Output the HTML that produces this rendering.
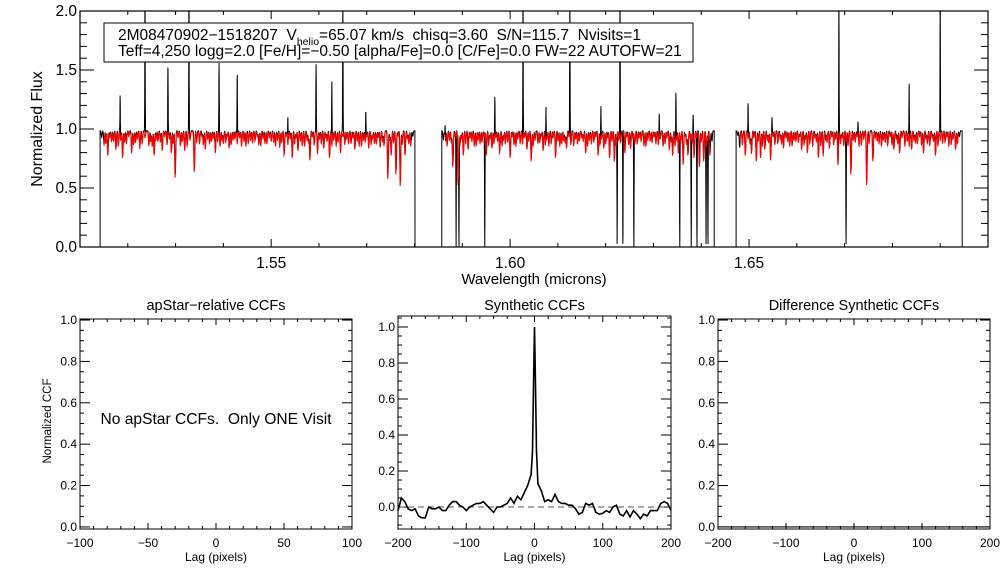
<!DOCTYPE html>
<html><head><meta charset="utf-8"><style>
html,body{margin:0;padding:0;background:#fff}
svg{display:block;font-family:"Liberation Sans",Arial,sans-serif}
text{white-space:pre}
</style></head><body>
<svg id="root" width="1008" height="576" viewBox="0 0 1008 576" xmlns="http://www.w3.org/2000/svg">
<rect width="1008" height="576" fill="#fff"/>
<g id="topPanel"></g>
<g id="p1"></g>
<g id="p2"></g>
<g id="p3"></g>
</svg>
<script>
// ---- spectrum data ----
const chipRanges = [[1.5142,1.5801],[1.5857,1.6427],[1.6473,1.6946]];
const absLines = [
 [[1.5150,.12],[1.5158,.20],[1.5166,.08],[1.5175,.15],[1.5189,.22],[1.5197,.10],[1.5208,.18],[1.5216,.09],[1.5225,.14],[1.5244,.12],[1.5255,.20],[1.5263,.08],[1.5272,.16],[1.5291,.18],[1.5299,.39],[1.5310,.12],[1.5319,.16],[1.5339,.34],[1.5350,.10],[1.5362,.15],[1.5375,.08],[1.5383,.18],[1.5400,.10],[1.5412,.14],[1.5420,.07],[1.5438,.12],[1.5452,.10],[1.5466,.08],[1.5478,.12],[1.5491,.10],[1.5505,.09],[1.5518,.13],[1.5527,.20],[1.5544,.22],[1.5556,.16],[1.5570,.12],[1.5581,.24],[1.5597,.18],[1.5610,.14],[1.5622,.22],[1.5636,.12],[1.5645,.18],[1.5662,.10],[1.5675,.15],[1.5689,.12],[1.5704,.14],[1.5716,.10],[1.5728,.13],[1.5744,.40],[1.5751,.20],[1.5761,.36],[1.5770,.46],[1.5780,.20],[1.5792,.12]],
 [[1.5868,.12],[1.5880,.30],[1.5891,.45],[1.5902,.20],[1.5912,.15],[1.5925,.12],[1.5937,.10],[1.5950,.20],[1.5962,.14],[1.5978,.18],[1.5990,.10],[1.6000,.22],[1.6012,.12],[1.6021,.10],[1.6035,.15],[1.6044,.25],[1.6058,.10],[1.6069,.16],[1.6081,.12],[1.6095,.22],[1.6108,.10],[1.6118,.14],[1.6133,.12],[1.6145,.08],[1.6158,.18],[1.6170,.10],[1.6184,.20],[1.6196,.14],[1.6208,.22],[1.6218,.25],[1.6240,.18],[1.6252,.14],[1.6266,.10],[1.6280,.12],[1.6293,.08],[1.6305,.10],[1.6320,.12],[1.6333,.15],[1.6340,.20],[1.6352,.18],[1.6362,.28],[1.6372,.20],[1.6385,.22],[1.6396,.30],[1.6405,.25],[1.6418,.20]],
 [[1.6480,.15],[1.6492,.20],[1.6505,.18],[1.6515,.25],[1.6524,.22],[1.6533,.15],[1.6545,.24],[1.6560,.10],[1.6572,.14],[1.6585,.12],[1.6598,.08],[1.6610,.15],[1.6622,.18],[1.6633,.12],[1.6645,.22],[1.6655,.20],[1.6668,.14],[1.6686,.28],[1.6698,.12],[1.6713,.36],[1.6730,.12],[1.6746,.45],[1.6759,.25],[1.6772,.10],[1.6790,.12],[1.6803,.15],[1.6815,.18],[1.6826,.12],[1.6840,.15],[1.6852,.10],[1.6865,.18],[1.6878,.12],[1.6890,.20],[1.6905,.10],[1.6918,.12],[1.6932,.15]]
];
// weak lines, wavelength = 1 + n/10000 microns
const weakLineCodes = "5145 5154 5162 5170 5180 5185 5193 5202 5212 5220 5230 5236 5248 5251 5259 5268 5277 5282 5287 5295 5305 5314 5324 5330 5344 5355 5358 5367 5371 5379 5388 5393 5397 5405 5408 5416 5424 5429 5434 5443 5447 5457 5461 5471 5474 5483 5487 5496 5500 5509 5513 5522 5531 5535 5540 5549 5552 5561 5565 5575 5578 5586 5590 5601 5605 5614 5617 5627 5631 5640 5650 5654 5658 5667 5671 5680 5684 5693 5697 5700 5709 5712 5720 5724 5733 5736 5748 5756 5765 5774 5785 5788 5796 5860 5864 5873 5877 5885 5895 5898 5907 5916 5920 5929 5933 5941 5945 5955 5958 5966 5970 5974 5983 5986 5995 6004 6008 6016 6026 6030 6039 6048 6052 6062 6065 6074 6077 6086 6090 6100 6104 6112 6115 6123 6127 6137 6141 6150 6153 6162 6166 6175 6179 6188 6191 6200 6204 6213 6222 6227 6231 6244 6248 6257 6261 6270 6274 6284 6288 6297 6301 6310 6314 6324 6328 6337 6345 6348 6357 6366 6369 6377 6381 6390 6400 6410 6413 6422 6476 6486 6498 6502 6510 6519 6528 6538 6541 6550 6554 6565 6568 6577 6581 6590 6594 6603 6606 6615 6618 6627 6638 6641 6650 6660 6663 6673 6677 6681 6691 6694 6703 6707 6718 6722 6726 6735 6740 6751 6764 6768 6777 6781 6785 6795 6799 6808 6811 6820 6831 6835 6845 6848 6857 6861 6870 6873 6883 6886 6895 6900 6910 6914 6923 6927 6936 6940";
const weakDepths = [0.06,0.10,0.05,0.08,0.12,0.07,0.09,0.04,0.11];
const skySpikes = [[1.5184,1.30],[1.5236,2.2],[1.5284,1.56],[1.5328,2.2],[1.5391,1.56],[1.5429,1.56],[1.5535,1.19],[1.5594,1.56],[1.5627,1.52],[1.5650,2.2],[1.5698,1.22],
 [1.5864,1.13],[1.5968,1.29],[1.6027,2.2],[1.6075,1.27],[1.6125,2.2],[1.6190,1.23],[1.6230,2.2],[1.6312,1.15],[1.6347,1.36],[1.6383,1.15],
 [1.6498,1.27],[1.6548,1.10],[1.6688,2.2],[1.6728,1.07],[1.6835,1.50],[1.6900,2.2]];
const badPixels = [1.5887,1.5893,1.5947,1.6224,1.6236,1.6259,1.6355,1.6379,1.6391,1.6410,1.6414,1.6703];
const specXTicks = [1.55,1.60,1.65];
const specYTicks = [0.0,0.5,1.0,1.5,2.0];
// ---- CCF data ----
const ccfLags = [-200,-195,-190,-185,-180,-175,-170,-165,-160,-155,-150,-145,-140,-135,-130,-125,-120,-115,-110,-105,-100,-95,-90,-85,-80,-75,-70,-65,-60,-55,-50,-45,-40,-35,-30,-25,-20,-15,-10,-5,-3,-1,0,1,3,5,10,15,20,25,30,35,40,45,50,55,60,65,70,75,80,85,90,95,100,105,110,115,120,125,130,135,140,145,150,155,160,165,170,175,180,185,190,195,200];
const ccfVals = [-0.02,0.05,0.03,-0.01,-0.02,-0.01,-0.05,-0.06,-0.06,0,-0.01,-0.01,0,-0.02,-0.02,0.01,0.03,0.03,0.01,0,-0.02,0,0.01,0.02,0.02,0.03,0.01,-0.01,-0.03,0,0,0.01,0.02,0.05,0.02,0.06,0.04,0.08,0.12,0.18,0.31,0.78,1.0,0.78,0.31,0.13,0.09,0.03,0.04,0.03,0.07,0.03,0.02,0.02,0.01,0.01,-0.01,-0.04,-0.03,0.02,0.01,0.02,-0.03,-0.04,-0.035,-0.02,-0.03,0,0.01,-0.04,-0.05,-0.02,-0.055,-0.02,-0.04,-0.065,-0.04,-0.05,-0.02,-0.02,-0.02,0.02,0.03,0.02,-0.02];
const ccfYTicks = [0.0,0.2,0.4,0.6,0.8,1.0];
const lagTicksA = [-100,-50,0,50,100];
const lagTicksB = [-200,-100,0,100,200];

(function(){
const NS="http://www.w3.org/2000/svg";
function mk(parent,tag,attrs){const e=document.createElementNS(NS,tag);for(const k in attrs)e.setAttribute(k,attrs[k]);parent.appendChild(e);return e;}
function txt(parent,x,y,s,size,anchor){const t=mk(parent,'text',{x:x,y:y,'font-size':size,'text-anchor':anchor||'middle',fill:'#000'});t.textContent=s;return t;}

const weak=weakLineCodes.split(' ').map((c,i)=>[1+parseInt(c,10)/10000,weakDepths[i%weakDepths.length]]);

const tp=document.getElementById('topPanel');
const X0=80,X1=988,Y0=11,Y1=247;
const xs=l=>X0+(l-1.51)/(1.70-1.51)*(X1-X0);
const ys=v=>Y1-(v-0)/(2.0)*(Y1-Y0);
const clipDef=mk(tp,'defs',{});const cp=mk(clipDef,'clipPath',{id:'cTop'});mk(cp,'rect',{x:X0,y:Y0,width:X1-X0,height:Y1-Y0});
const dataG=mk(tp,'g',{'clip-path':'url(#cTop)'});


const sig=0.00013, step=0.00003;
chipRanges.forEach((r,ci)=>{
  const lines=absLines[ci].concat(weak.filter(w=>w[0]>=r[0]&&w[0]<=r[1]));
  let pb=[],pr=[];
  pb.push(xs(r[0]).toFixed(1)+','+ys(0).toFixed(1));
  for(let l=r[0];l<=r[1];l+=step){
    let m=0.975, o=0.985;
    for(const [lc,d] of lines){m-=d*Math.exp(-Math.pow((l-lc)/sig,2));o-=d*0.95*Math.exp(-Math.pow((l-lc-0.00004)/sig,2));}
    for(const [lc,h] of skySpikes){if(lc>=r[0]&&lc<=r[1]){const g=Math.exp(-Math.pow((l-lc)/0.00006,2));o+=(h-0.98)*g;}}
    for(const lc of badPixels){if(lc>=r[0]&&lc<=r[1]){const g=Math.exp(-Math.pow((l-lc)/0.00006,2));o-=o*g;}}
    pb.push(xs(l).toFixed(1)+','+ys(o).toFixed(1));
    if(l>r[0]+0.0008 && l<r[1]-0.0008) pr.push(xs(l).toFixed(1)+','+ys(m).toFixed(1));
  }
  pb.push(xs(r[1]).toFixed(1)+','+ys(0).toFixed(1));
  const b=mk(dataG,'polyline',{points:pb.join(' '),fill:'none',stroke:'#000','stroke-width':1});
  
  
  const rr=mk(dataG,'polyline',{points:pr.join(' '),fill:'none',stroke:'#f00','stroke-width':1});
  
  
});
mk(tp,'rect',{x:X0,y:Y0,width:X1-X0,height:Y1-Y0,fill:'none',stroke:'#000','stroke-width':1.2});
for(let i=0;i<=19;i++){const l=1.51+i*0.01;const x=xs(l);const maj=(i%5)===4;const L=maj?8:4;
  mk(tp,'line',{x1:x,x2:x,y1:Y1,y2:Y1-L,stroke:'#000'});mk(tp,'line',{x1:x,x2:x,y1:Y0,y2:Y0+L,stroke:'#000'});}
specXTicks.forEach(v=>{const t=txt(tp,xs(v),268,v.toFixed(2),15.5);});
for(let i=0;i<=20;i++){const v=i*0.1;const y=ys(v);const maj=(i%5)===0;const L=maj?14:7;
  mk(tp,'line',{x1:X0,x2:X0+L,y1:y,y2:y,stroke:'#000'});mk(tp,'line',{x1:X1,x2:X1-L,y1:y,y2:y,stroke:'#000'});}
specYTicks.forEach(v=>{const t=txt(tp,X0-3,ys(v)+5,v.toFixed(1),15.5,'end');});
const xt=txt(tp,534,284,'Wavelength (microns)',15);
const yt=txt(tp,0,0,'Normalized Flux',16);yt.setAttribute('transform','translate(42,129) rotate(-90)');
const box=mk(tp,'g',{});
mk(box,'rect',{x:104,y:23,width:589,height:39,fill:'#fff',stroke:'#000','stroke-width':1});
const t1=mk(box,'text',{x:118,y:40,'font-size':15.5,fill:'#000'});
const a1=mk(t1,'tspan',{});a1.textContent='2M08470902−1518207  V';
const a2=mk(t1,'tspan',{'font-size':10.5,dy:5});a2.textContent='helio';
const a3=mk(t1,'tspan',{dy:-5});a3.textContent='=65.07 km/s  chisq=3.60  S/N=115.7  Nvisits=1';
const t2=mk(box,'text',{x:118,y:56,'font-size':15.5,fill:'#000'});t2.textContent='Teff=4,250 logg=2.0 [Fe/H]=−0.50 [alpha/Fe]=0.0 [C/Fe]=0.0 FW=22 AUTOFW=21';

function panel(id,x0,x1,y0,y1,lagMin,lagMax,lagTicks,minorStep,vMin,vMax,title){
  const g=document.getElementById(id);
  const sx=v=>x0+(v-lagMin)/(lagMax-lagMin)*(x1-x0);
  const sy=v=>y1-(v-vMin)/(vMax-vMin)*(y1-y0);
  mk(g,'rect',{x:x0,y:y0,width:x1-x0,height:y1-y0,fill:'none',stroke:'#000','stroke-width':1});
  const n=Math.round((lagMax-lagMin)/minorStep);
  for(let i=0;i<=n;i++){const v=lagMin+i*minorStep;const x=sx(v);const maj=lagTicks.some(t=>Math.abs(t-v)<1e-6);const L=maj?6:3;
    mk(g,'line',{x1:x,x2:x,y1:y1,y2:y1-L,stroke:'#000'});mk(g,'line',{x1:x,x2:x,y1:y0,y2:y0+L,stroke:'#000'});}
  lagTicks.forEach(v=>{const t=txt(g,sx(v),547,(v<0?'−':'')+Math.abs(v),12);});
  for(let i=Math.ceil(vMin*20);i<=Math.floor(vMax*20);i++){const v=i/20;const y=sy(v);const maj=(i%4)===0;const L=maj?10:4;
    mk(g,'line',{x1:x0,x2:x0+L,y1:y,y2:y,stroke:'#000'});mk(g,'line',{x1:x1,x2:x1-L,y1:y,y2:y,stroke:'#000'});}
  ccfYTicks.forEach(v=>{const t=txt(g,x0-3,sy(v)+4,v.toFixed(1),12,'end');});
  const tt=txt(g,(x0+x1)/2,310,title,14.5);
  const xl=txt(g,(x0+x1)/2,561,'Lag (pixels)',12);
  return {g,sx,sy};
}
const A=panel('p1',80,352,319,529,-100,100,lagTicksA,10,-0.01,1.005,'apStar−relative CCFs');
const yl=txt(A.g,0,0,'Normalized CCF',11.5);yl.setAttribute('transform','translate(51,421) rotate(-90)');
const msg=txt(A.g,216,424,'No apStar CCFs.  Only ONE Visit',15.6);

const B=panel('p2',398,671,316,529,-200,200,lagTicksB,20,-0.122,1.061,'Synthetic CCFs');
const zl=mk(B.g,'line',{x1:B.sx(-200),x2:B.sx(200),y1:B.sy(0),y2:B.sy(0),stroke:'#555','stroke-dasharray':'6,4'});

const cl=mk(B.g,'polyline',{points:ccfLags.map((l,i)=>B.sx(l).toFixed(1)+','+B.sy(ccfVals[i]).toFixed(1)).join(' '),fill:'none',stroke:'#000','stroke-width':1.6});


const C=panel('p3',718,990,319,529,-200,200,lagTicksB,20,-0.01,1.005,'Difference Synthetic CCFs');
const dl=mk(C.g,'line',{x1:C.sx(-200),x2:C.sx(200),y1:C.sy(0),y2:C.sy(0),stroke:'#000','stroke-width':1.2});

})();
</script>
</body></html>
